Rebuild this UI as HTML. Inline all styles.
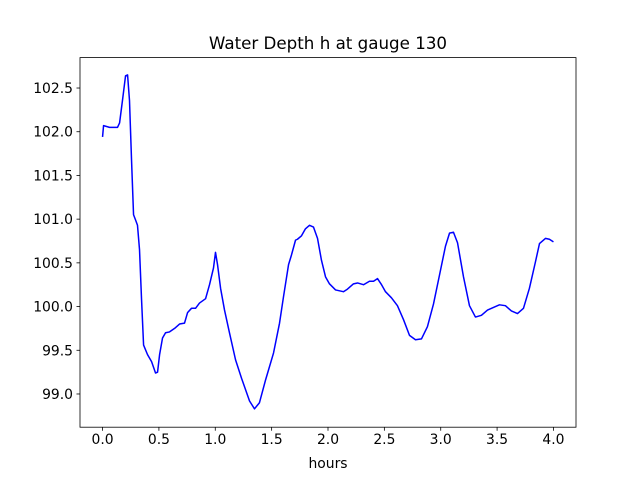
<!DOCTYPE html>
<html><head><meta charset="utf-8"><style>
body{margin:0;background:#fff}
svg text{font-family:"DejaVu Sans","Liberation Sans",sans-serif;fill:#000}
</style></head><body>
<svg id="chart" width="640" height="480" xmlns="http://www.w3.org/2000/svg">
<rect width="640" height="480" fill="#fff"/>
<text x="328" y="49" font-size="16.7" text-anchor="middle">Water Depth h at gauge 130</text>
<text x="328" y="468" font-size="13.9" text-anchor="middle">hours</text>
<g id="plot"></g>
</svg>
<script>
const hours = [0,.009,.062,.133,.151,.177,.204,.222,.239,.257,.275,.293,.310,.328,.346,.364,.399,.435,.470,.488,.506,.532,.559,.594,.639,.683,.727,.754,.789,.825,.860,.914,.949,.984,1.002,1.020,1.047,1.082,1.126,1.180,1.233,1.304,1.348,1.392,1.446,1.517,1.570,1.605,1.650,1.676,1.712,1.729,1.765,1.800,1.836,1.871,1.907,1.942,1.978,2.013,2.067,2.102,2.137,2.173,2.226,2.262,2.315,2.368,2.404,2.439,2.475,2.510,2.563,2.616,2.670,2.723,2.776,2.829,2.882,2.936,2.989,3.042,3.078,3.113,3.149,3.202,3.255,3.308,3.361,3.415,3.468,3.521,3.574,3.627,3.681,3.734,3.787,3.840,3.876,3.929,3.964,4.0];
const depth = [101.94,102.07,102.05,102.05,102.10,102.36,102.64,102.65,102.36,101.68,101.05,100.99,100.93,100.65,100.08,99.56,99.45,99.37,99.24,99.25,99.45,99.64,99.70,99.71,99.75,99.80,99.81,99.93,99.98,99.98,100.04,100.09,100.25,100.44,100.62,100.48,100.21,99.96,99.70,99.39,99.18,98.92,98.83,98.90,99.16,99.47,99.81,100.11,100.48,100.59,100.76,100.77,100.81,100.89,100.93,100.91,100.78,100.53,100.34,100.26,100.19,100.18,100.17,100.20,100.26,100.27,100.25,100.29,100.29,100.32,100.25,100.17,100.10,100.01,99.85,99.67,99.62,99.63,99.77,100.03,100.36,100.69,100.84,100.85,100.73,100.34,100.01,99.88,99.90,99.96,99.99,100.02,100.01,99.95,99.92,99.98,100.21,100.51,100.72,100.78,100.77,100.74];
const xTicks = ["0.0","0.5","1.0","1.5","2.0","2.5","3.0","3.5","4.0"];
const yTicks = ["99.0","99.5","100.0","100.5","101.0","101.5","102.0","102.5"];

const L=80,R=576,T=57.6,B=427.2;
const xMin=-0.2,xMax=4.2,yMin=98.62,yMax=102.848;
const sx=v=>L+(v-xMin)/(xMax-xMin)*(R-L);
const sy=v=>B-(v-yMin)/(yMax-yMin)*(B-T);
const NS="http://www.w3.org/2000/svg";
const g=document.getElementById('plot');
function mk(tag,attrs){const e=document.createElementNS(NS,tag);for(const k in attrs)e.setAttribute(k,attrs[k]);g.appendChild(e);return e;}

const line=mk('path',{d:hours.map((h,i)=>(i?'L':'M')+sx(h).toFixed(2)+' '+sy(depth[i]).toFixed(2)).join(''),fill:'none',stroke:'#0000ff','stroke-width':1.5,'stroke-linejoin':'round'});



const frame=mk('rect',{x:L,y:T,width:R-L,height:B-T,fill:'none',stroke:'#000','stroke-width':0.8});



xTicks.forEach(t=>{const x=sx(parseFloat(t));
 const tk=mk('line',{x1:x,x2:x,y1:B,y2:B+3.5,stroke:'#000','stroke-width':0.8});
 
 
 const tx=mk('text',{x:x,y:B+17,'font-size':13.9,'text-anchor':'middle'});tx.textContent=t;
 
 
});
yTicks.forEach(t=>{const y=sy(parseFloat(t));
 const tk=mk('line',{x1:L-3.5,x2:L,y1:y,y2:y,stroke:'#000','stroke-width':0.8});
 
 
 const tx=mk('text',{x:L-7,y:y+5,'font-size':13.9,'text-anchor':'end'});tx.textContent=t;
 
 
});
</script>
</body></html>
